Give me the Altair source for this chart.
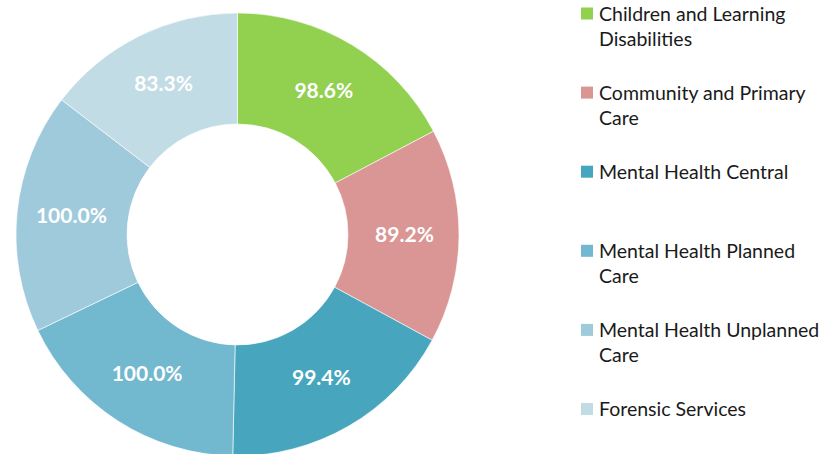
import altair as alt
import pandas as pd

categories = [
    "Children and Learning Disabilities",
    "Community and Primary Care",
    "Mental Health Central",
    "Mental Health Planned Care",
    "Mental Health Unplanned Care",
    "Forensic Services",
]
legend_text = [
    "Children and Learning\nDisabilities",
    "Community and Primary\nCare",
    "Mental Health Central",
    "Mental Health Planned\nCare",
    "Mental Health Unplanned\nCare",
    "Forensic Services",
]
values = [98.6, 89.2, 99.4, 100.0, 100.0, 83.3]
labels = ["98.6%", "89.2%", "99.4%", "100.0%", "100.0%", "83.3%"]
colors = ["#92D050", "#DA9694", "#47A5BE", "#72B8CE", "#9FCADB", "#C2DCE5"]

df = pd.DataFrame({
    "cat": categories,
    "legend": legend_text,
    "val": values,
    "label": labels,
    "order": list(range(len(categories))),
})

FONT = "Lato"
base = alt.Chart(df)
color = alt.Color("cat:N", scale=alt.Scale(domain=categories, range=colors), legend=None)
cx, cy = 237.5, 234.5

arcs = base.mark_arc(outerRadius=221.5, innerRadius=110.5, stroke="white", strokeWidth=0.6).encode(
    theta=alt.Theta("val:Q", stack=True),
    color=color,
    order=alt.Order("order:Q"),
    x=alt.value(cx),
    y=alt.value(cy),
)

arc_labels = base.mark_text(radius=167, font=FONT, fontSize=21, fontWeight="bold", color="white").encode(
    theta=alt.Theta("val:Q", stack=True),
    text="label:N",
    order=alt.Order("order:Q"),
    x=alt.value(cx),
    y=alt.value(cy),
)

ypos = alt.Y("cat:N", sort=categories, axis=None,
             scale=alt.Scale(type="point", range=[13.5, 409], padding=0))

legend_sq = base.mark_square(size=144, opacity=1).encode(
    y=ypos, x=alt.value(587), color=color,
)
legend_txt = base.mark_text(align="left", baseline="alphabetic", dy=7, lineBreak="\n",
                            lineHeight=25, font=FONT, fontSize=19.5, color="#1a1a1a").encode(
    y=ypos, x=alt.value(599), text="legend:N",
)

chart = alt.layer(arcs, arc_labels, legend_sq, legend_txt).properties(
    width=823, height=454, autosize=alt.AutoSizeParams(type="none"), padding=0
).configure_view(stroke=None)

chart.save("out.html", embed_options={"renderer": "svg", "actions": False})
